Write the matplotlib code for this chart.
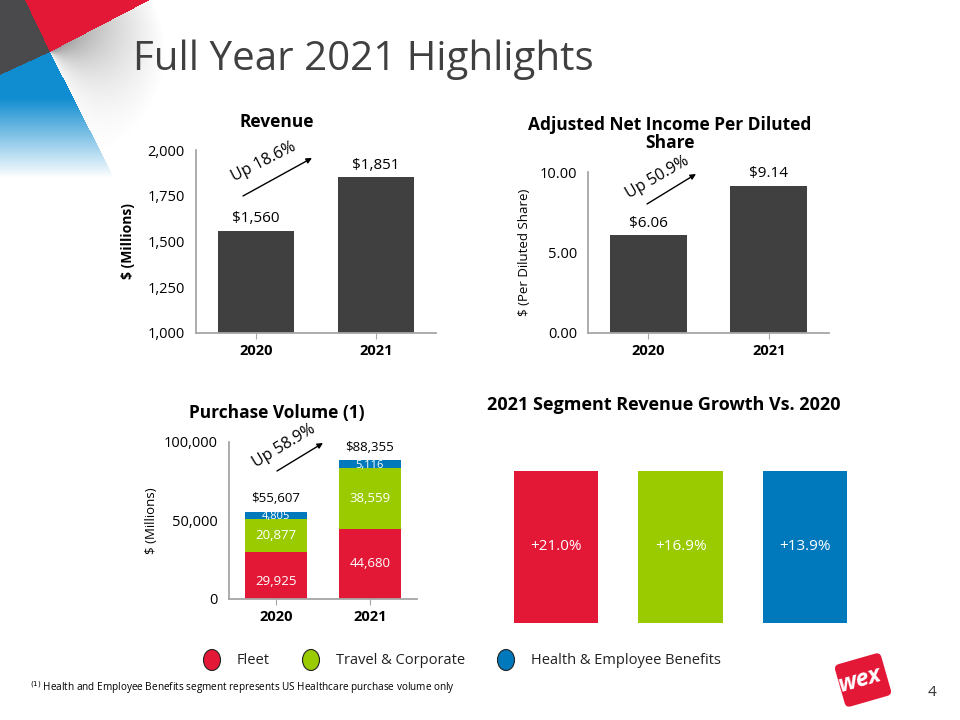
import numpy as np
import matplotlib
matplotlib.use('Agg')
import matplotlib.pyplot as plt
from matplotlib.patches import Ellipse, FancyBboxPatch
from matplotlib.transforms import Affine2D

plt.rcParams['font.family'] = ['Open Sans', 'DejaVu Sans']

# --- data ---
years = ['2020', '2021']
revenue = [1560, 1851]
eps = [6.06, 9.14]
fleet_pv = [29925, 44680]
travel_pv = [20877, 38559]
health_pv = [4805, 5116]
pv_total = [55607, 88355]
segments = ['Fleet', 'Travel & Corporate', 'Health & Employee Benefits']
seg_growth = [21.0, 16.9, 13.9]

RED = '#E31837'
GREEN = '#9ACA00'
BLUE = '#0079BC'
DARK = '#404040'
SPINE = '#A6A6A6'

W, H = 960, 720
fig = plt.figure(figsize=(9.6, 7.2), dpi=100)


def px_axes(left, top, right, bottom):
    # axes placed by pixel box (origin top-left)
    return fig.add_axes([left / W, (H - bottom) / H, (right - left) / W, (bottom - top) / H])


def style(ax):
    for s in ['top', 'right']:
        ax.spines[s].set_visible(False)
    for s in ['left', 'bottom']:
        ax.spines[s].set_color(SPINE)
        ax.spines[s].set_linewidth(1.3)
    ax.tick_params(axis='y', length=0, labelsize=10.5, pad=8)
    ax.tick_params(axis='x', length=4, color=SPINE, labelsize=10.5, pad=4)
    ax.set_facecolor('none')


# background decoration (top-left corner)
bg = fig.add_axes([0, 0, 1, 1], zorder=-5)
bg.set_xlim(0, W)
bg.set_ylim(H, 0)
bg.axis('off')
yy, xx = np.mgrid[0:200, 0:240] + 0.5
cx, cy = 50, 52
ang = np.degrees(np.arctan2(yy - cy, xx - cx))
img = np.ones((200, 240, 4))
img[..., 3] = 0
red = (ang > -115.7) & (ang <= -27.5)
grad = (ang > -27.5) & (ang <= 63)
blue = (ang > 63) & (ang <= 155.3)
gray = ~(red | grad | blue)
img[red] = [0xE3 / 255, 0x18 / 255, 0x37 / 255, 1]
img[gray] = [0x4A / 255, 0x4A / 255, 0x4D / 255, 1]
bl = np.clip((178 - yy) / 80, 0, 1) * np.clip((150 - xx + 0.3 * (yy - 60)) / 50, 0, 1)
img[blue, 0] = 0x10 / 255
img[blue, 1] = 0x8C / 255
img[blue, 2] = 0xD0 / 255
img[blue, 3] = bl[blue]
dist = np.hypot(xx - cx, yy - cy)
gr = np.clip(1 - (ang + 27.5) / 100, 0, 1) * np.clip(1 - dist / 115, 0, 1)
img[grad, 0:3] = 0.5
img[grad, 3] = gr[grad] * 0.85
bg.imshow(img, extent=(0, 240, 200, 0), interpolation='bilinear', zorder=0)

# --- Revenue ---
ax1 = px_axes(196, 150, 436, 333)
x = np.arange(len(years))
ax1.bar(x, revenue, width=0.64, color=DARK)
ax1.set_xlim(-0.5, 1.5)
ax1.set_ylim(1000, 2000)
ax1.set_yticks([1000, 1250, 1500, 1750, 2000])
ax1.set_yticklabels(['{:,}'.format(v) for v in [1000, 1250, 1500, 1750, 2000]])
ax1.set_xticks(x)
ax1.set_xticklabels(years, fontweight='bold')
style(ax1)
for xi, v in zip(x, revenue):
    ax1.text(xi, v + 25, '${:,}'.format(v), ha='center', va='bottom', fontsize=11)
ax1.set_ylabel('$ (Millions)', fontsize=10, fontweight='bold', labelpad=9)

# --- Adjusted EPS ---
ax2 = px_axes(588, 172, 829, 333)
ax2.bar(x, eps, width=0.64, color=DARK)
ax2.set_xlim(-0.5, 1.5)
ax2.set_ylim(0, 10)
ax2.set_yticks([0, 5, 10])
ax2.set_yticklabels(['0.00', '5.00', '10.00'])
ax2.set_xticks(x)
ax2.set_xticklabels(years, fontweight='bold')
style(ax2)
for xi, v in zip(x, eps):
    ax2.text(xi, v + 0.3, '${:.2f}'.format(v), ha='center', va='bottom', fontsize=11)
ax2.set_ylabel('$ (Per Diluted Share)', fontsize=9.5, labelpad=6)

# --- Purchase volume ---
ax3 = px_axes(229, 442, 417, 599)
ax3.bar(x, fleet_pv, width=0.65, color=RED)
ax3.bar(x, travel_pv, width=0.65, bottom=fleet_pv, color=GREEN)
base = np.array(fleet_pv) + np.array(travel_pv)
ax3.bar(x, health_pv, width=0.65, bottom=base, color=BLUE)
ax3.set_xlim(-0.5, 1.5)
ax3.set_ylim(0, 100000)
ax3.set_yticks([0, 50000, 100000])
ax3.set_yticklabels(['0', '50,000', '100,000'])
ax3.set_xticks(x)
ax3.set_xticklabels(years, fontweight='bold')
style(ax3)
for i in range(len(years)):
    ax3.text(x[i], fleet_pv[i] * 0.5 - 3500 * (1 - i), '{:,}'.format(fleet_pv[i]),
             ha='center', va='center', color='white', fontsize=9.5)
    ax3.text(x[i], fleet_pv[i] + travel_pv[i] * 0.5, '{:,}'.format(travel_pv[i]),
             ha='center', va='center', color='white', fontsize=9.5)
    ax3.text(x[i], base[i] + health_pv[i] * 0.5 - 800, '{:,}'.format(health_pv[i]),
             ha='center', va='center', color='white', fontsize=8)
    ax3.text(x[i], pv_total[i] + 4000, '${:,}'.format(pv_total[i]),
             ha='center', va='bottom', fontsize=9.5)
ax3.set_ylabel('$ (Millions)', fontsize=9.5, labelpad=4)

# --- Segment revenue growth ---
ax4 = px_axes(494, 471, 867, 623)
sx = np.arange(len(segments))
ax4.bar(sx, [1] * len(segments), width=0.68, color=[RED, GREEN, BLUE])
ax4.set_xlim(-0.5, 2.5)
ax4.set_ylim(0, 1)
ax4.axis('off')
for xi, g in zip(sx, seg_growth):
    ax4.text(xi, 0.5, '+{:.1f}%'.format(g), ha='center', va='center',
             color='white', fontsize=11)

# --- overlay: titles, arrows, legend, footnote ---
ov = fig.add_axes([0, 0, 1, 1], zorder=10)
ov.set_xlim(0, W)
ov.set_ylim(H, 0)
ov.axis('off')
ov.patch.set_alpha(0)

ov.text(133, 60, 'Full Year 2021 Highlights', fontsize=29, color='#404040',
        ha='left', va='center')
ov.text(277, 122, 'Revenue', fontsize=12.5, fontweight='bold', ha='center', va='center')
ov.text(670, 134, 'Adjusted Net Income Per Diluted\nShare', fontsize=12.5,
        fontweight='bold', ha='center', va='center', linespacing=1.05)
ov.text(277, 413, 'Purchase Volume (1)', fontsize=12.5, fontweight='bold',
        ha='center', va='center')
ov.text(664, 405, '2021 Segment Revenue Growth Vs. 2020', fontsize=13,
        fontweight='bold', ha='center', va='center')

for (x0, y0, x1, y1, tx, ty, rot, lab) in [
        (243, 196, 312, 158, 264, 162, 27, 'Up 18.6%'),
        (647, 204, 696, 174, 657, 178, 30, 'Up 50.9%'),
        (277, 471, 323, 443, 284, 446, 31, 'Up 58.9%')]:
    ov.annotate('', xy=(x1, y1), xytext=(x0, y0),
                arrowprops=dict(arrowstyle='-|>', color='black', lw=1.0,
                                mutation_scale=8, shrinkA=0, shrinkB=0))
    ov.text(tx, ty, lab, rotation=rot, rotation_mode='anchor', ha='center',
            va='center', fontsize=11.5)

leg_x = [212, 311, 506]
for lx, lab, c in zip(leg_x, segments, [RED, GREEN, BLUE]):
    ov.add_patch(Ellipse((lx, 660), 17, 21, facecolor=c, edgecolor='#222222', lw=0.8))
    ov.text(lx + 25, 660, lab, fontsize=10.5, va='center', ha='left', color='#222222')

ov.text(30, 688, '$^{(1)}$ Health and Employee Benefits segment represents US Healthcare purchase volume only',
        fontsize=7.2, va='center', ha='left')
ov.text(932, 692, '4', fontsize=11, va='center', ha='center', color='#333333')

# logo
card = FancyBboxPatch((-24, -22), 48, 44, boxstyle='round,pad=0,rounding_size=5',
                      facecolor=RED, edgecolor='none')
card.set_transform(Affine2D().rotate_deg(-16).translate(863, 680) + ov.transData)
ov.add_patch(card)
ov.text(860, 680, 'wex', fontsize=17, fontweight='bold', color='white', ha='center',
        va='center', rotation=16, style='italic')

fig.savefig('out.png', dpi=100)
